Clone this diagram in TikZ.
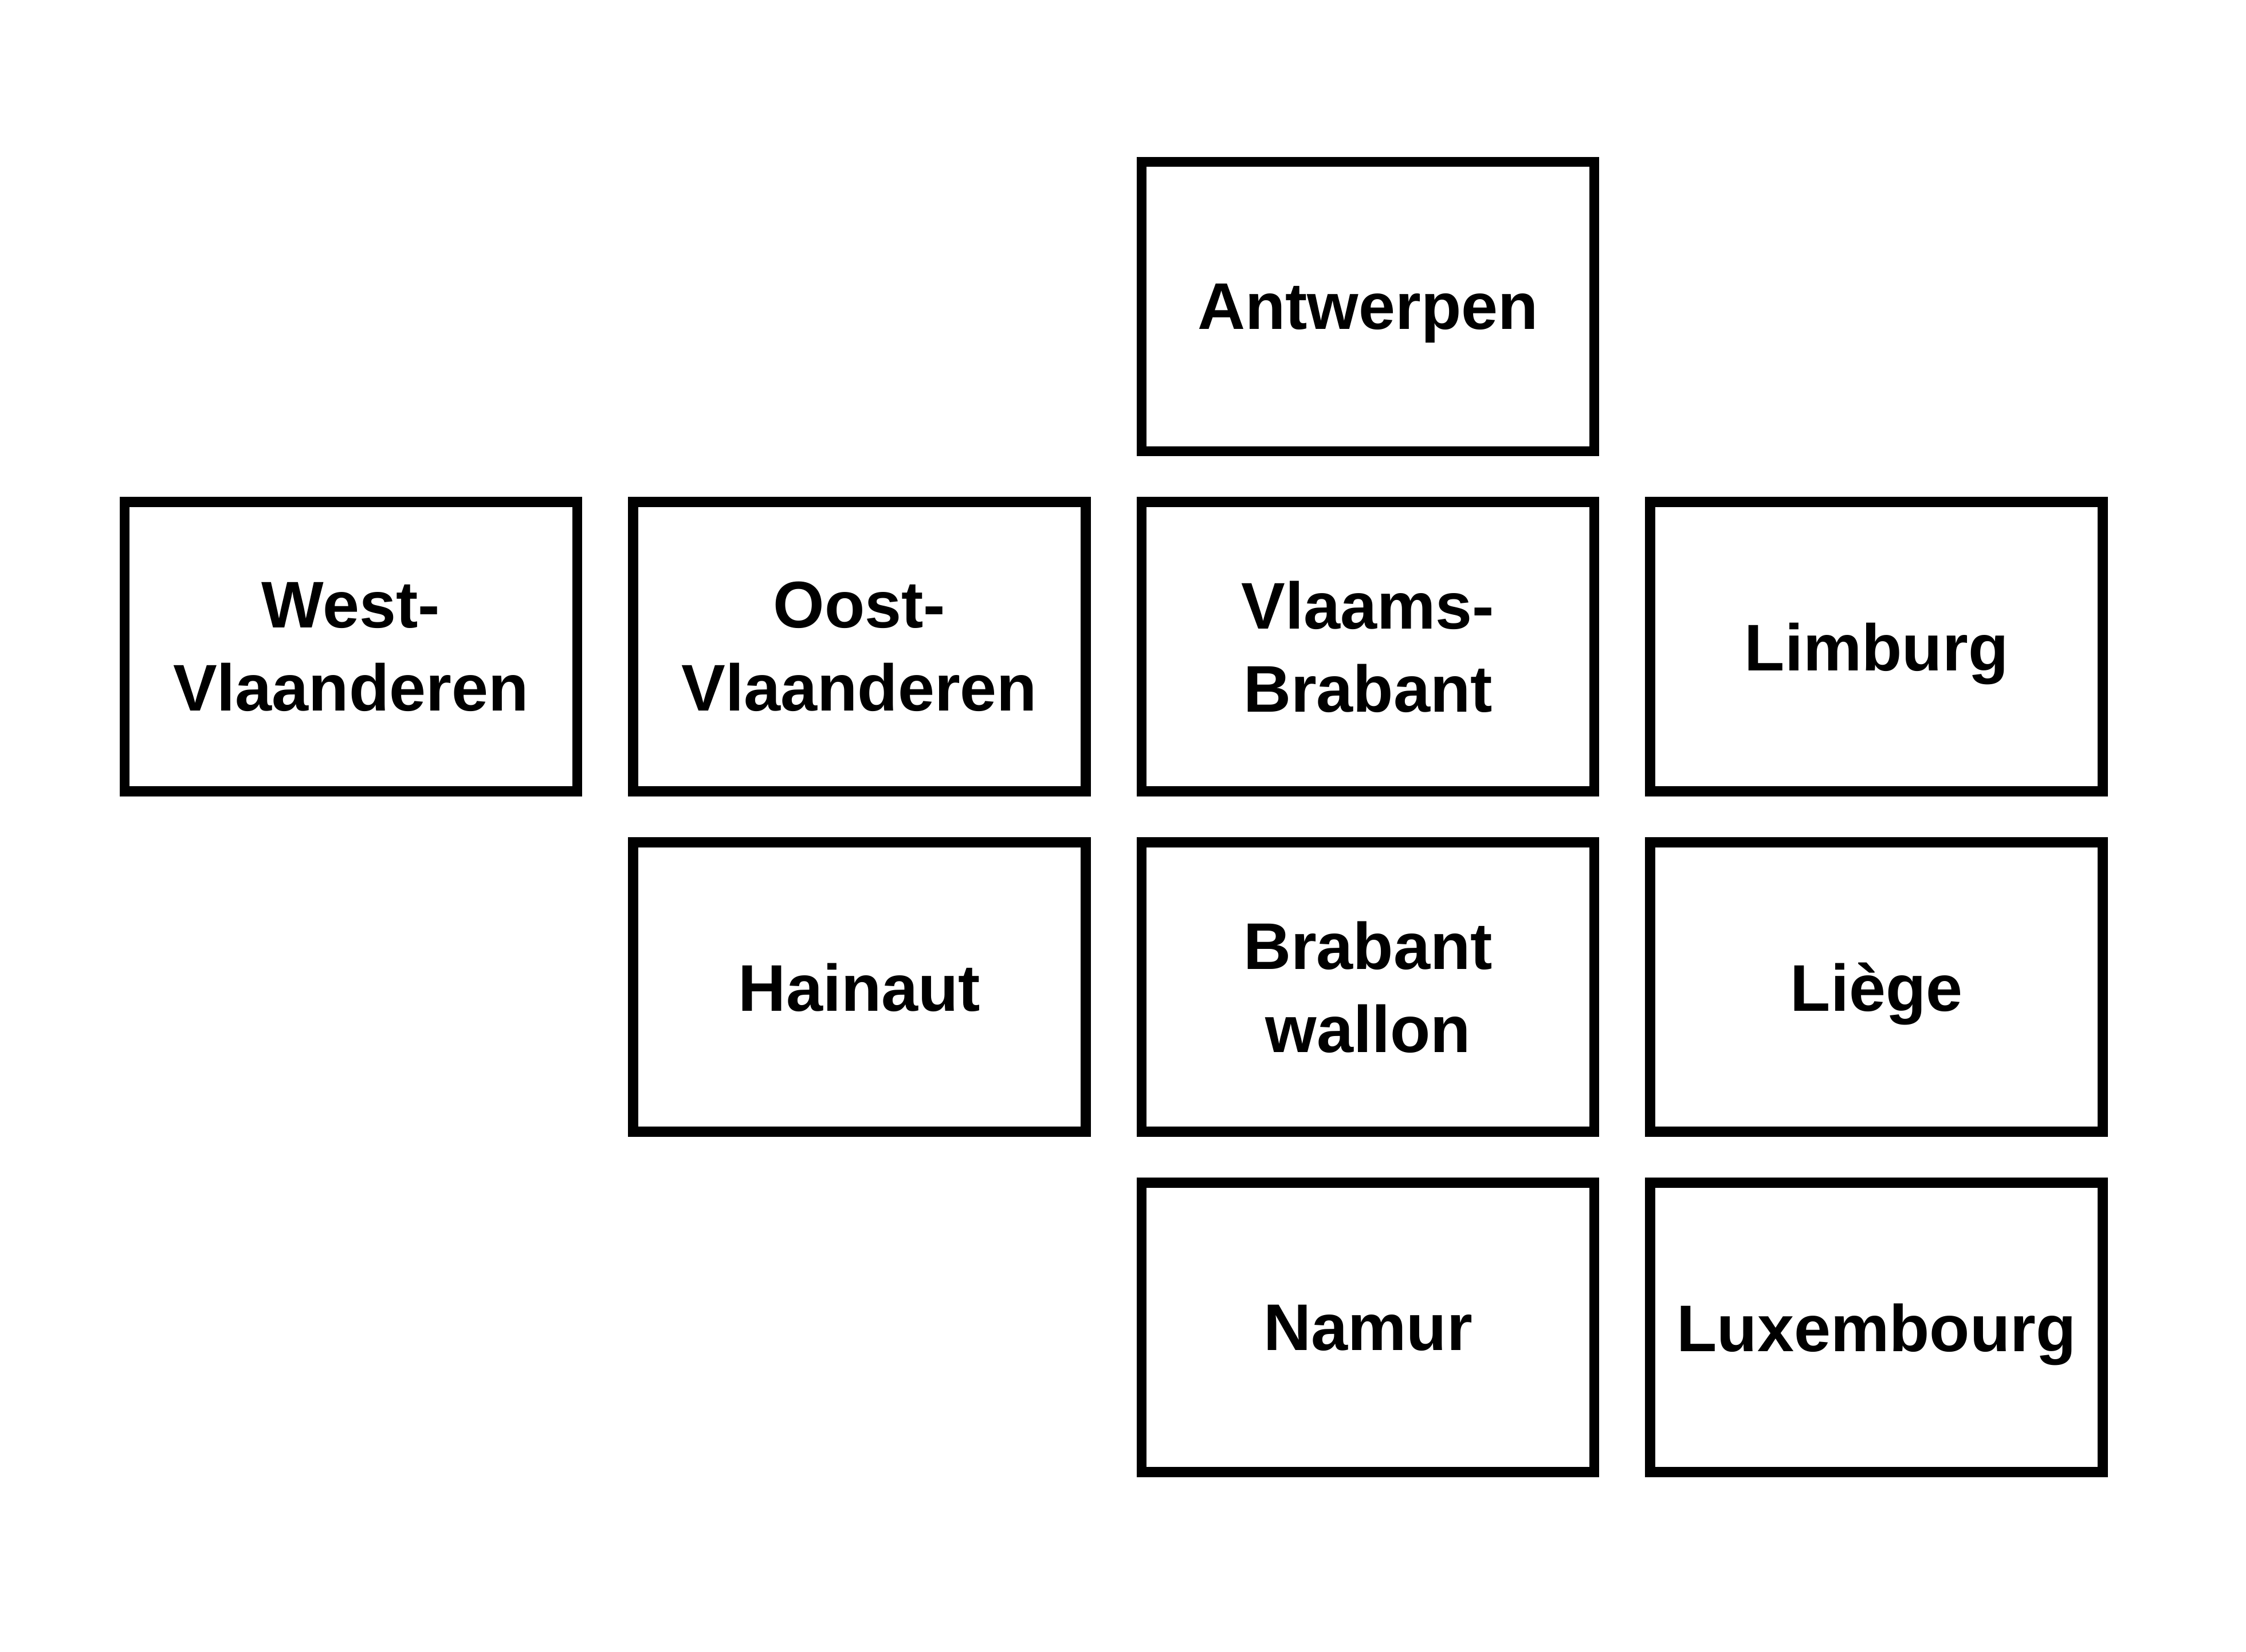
\documentclass[tikz,border=0pt]{standalone}
\usepackage{fontspec}
\setmainfont{Liberation Sans}
\usepackage{tikz}
\usepackage{xcolor}
\usetikzlibrary{positioning}
\definecolor{darkText}{RGB}{0,0,0}
\tikzset{
    provbox/.style={
        rectangle,
        draw=darkText,
        line width=2pt,
        align=center,
        fill=white,
        minimum width=3.16cm,
        minimum height=2.02cm,
        font=\fontsize{13.1pt}{16.5pt}\selectfont\bfseries
    },
    onebox/.style={provbox, text depth=0pt}
}
\begin{document}
\begin{tikzpicture}[node distance=0.285cm and 0.32cm]
            \useasboundingbox (0,0) rectangle (15.68,11.53);
            \node[onebox] (antw) at (9.55,9.39) {Antwerpen};
            \node[provbox, below=of antw] (vlbr) {Vlaams-\\Brabant};
            \node[provbox, left=of vlbr] (ovl) {Oost-\\Vlaanderen};
            \node[provbox, left=of ovl] (wvl) {West-\\Vlaanderen};
            \node[onebox, right=of vlbr] (limb) {Limburg};
            \node[provbox, below=of vlbr] (brwa) {Brabant\\wallon};
            \node[onebox, left=of brwa] (hain) {Hainaut};
            \node[onebox, right=of brwa] (lieg) {Liège};
            \node[onebox, below=of brwa] (namu) {Namur};
            \node[onebox, right=of namu] (luxe) {Luxembourg};
        \end{tikzpicture}
\end{document}
